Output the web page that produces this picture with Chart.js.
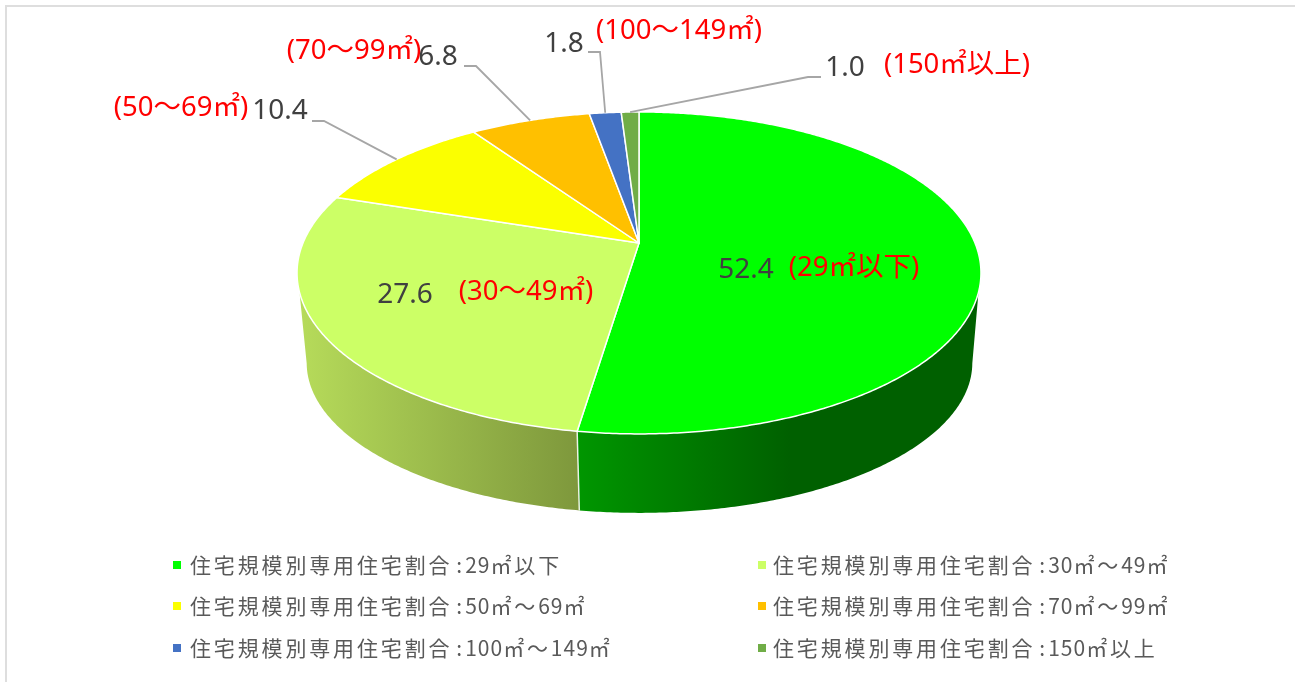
<!DOCTYPE html>
<html lang="ja">
<head>
<meta charset="utf-8">
<style>
html,body{margin:0;padding:0;background:#fff;overflow:hidden}
#c{display:block}
</style>
<script src="https://cdn.jsdelivr.net/npm/chart.js@4"></script>
</head>
<body>
<canvas id="c" width="1295" height="682"></canvas>
<script>
const categories = ['住宅規模別専用住宅割合:29㎡以下','住宅規模別専用住宅割合:30㎡〜49㎡','住宅規模別専用住宅割合:50㎡〜69㎡','住宅規模別専用住宅割合:70㎡〜99㎡','住宅規模別専用住宅割合:100㎡〜149㎡','住宅規模別専用住宅割合:150㎡以上'];
const shares = [52.4,27.6,10.4,6.8,1.8,1.0];
const valueLabels = ['52.4','27.6','10.4','6.8','1.8','1.0'];
const sizeLabels = ['(29㎡以下)','(30〜49㎡)','(50〜69㎡)','(70〜99㎡)','(100〜149㎡)','(150㎡以上)'];
const colors = ['#00FF00','#CCFF66','#FBFF00','#FFC000','#4472C4','#70AD47'];
const wallStops = [[['#009600',579],['#006000',790]],[['#B6DB5A',300],['#7E983C',578]],[['#999900',0],['#999900',1]],[['#997300',0],['#997300',1]],[['#2A4476',0],['#2A4476',1]],[['#43682B',0],['#43682B',1]]];
// Layout (screen pixels) - separate from data
const top3d = {cx:639,cy:243,R:336,K:155.4,p:0.186};
const bottom3d = {cx:639.5,cy:335,R:327,K:144.8,p:0.186};
const topVmin = 0.30, botVmin = 0.19;
const valuePos = [[746,270],[405,295],[280,111],[438,57],[564,44],[845,68]];
const sizePos = [[854,268],[526,292],[181,108],[354,51],[679,31],[957,65]];
const leaderPts = [null,null,[[312,121],[324,121]],[[464,66],[476,66]],[[588,52],[600,52]],[[821,77],[808,77]]];
const legendCols = [173,758];
const legendRows = [565,606,648];

function project(d,theta){
  const u=Math.sin(theta),v=-Math.cos(theta),w=1-d.p*v;
  return [d.cx+d.R*u/w,d.cy+d.K*v/w];
}
function arcPts(d,a,b){
  const n=Math.max(2,Math.ceil(Math.abs(b-a)/(Math.PI/360)));
  const pts=[];
  for(let i=0;i<=n;i++) pts.push(project(d,a+(b-a)*i/n));
  return pts;
}
function drawText(ctx,txt,x,y,font,color,align){
  ctx.font=font;ctx.fillStyle=color;ctx.textAlign=align;ctx.textBaseline='middle';
  ctx.fillText(txt,x,y);
}
function drawLegendText(ctx,txt,x,y){
  ctx.font='21px "Noto Sans CJK JP","Noto Sans",sans-serif';
  ctx.fillStyle='#595959';ctx.textAlign='left';ctx.textBaseline='middle';
  txt.match(/[0-9]+|:|[^0-9:]+/g).forEach(run=>{
    const isDigit=/^[0-9]/.test(run), isColon=run===':';
    if(isColon) x+=4;
    ctx.letterSpacing=isDigit?'1px':(isColon?'3px':'2.85px');
    ctx.fillText(run,x,y);
    x+=ctx.measureText(run).width;
  });
  ctx.letterSpacing='0px';
}
const pie3d = {
  id:'pie3d',
  beforeDraw(chart){
    const ctx=chart.ctx;
    ctx.save();
    ctx.fillStyle='#fff';ctx.fillRect(0,0,1295,682);
    ctx.strokeStyle='#DEDEDE';ctx.lineWidth=2;
    ctx.beginPath();ctx.moveTo(6,682);ctx.lineTo(6,6);ctx.lineTo(1295,6);ctx.stroke();
    ctx.restore();
  },
  beforeDatasetDraw(chart,args){
    const ctx=chart.ctx, arcs=chart.getDatasetMeta(args.index).data;
    const ang=arcs.map(a=>[a.startAngle+Math.PI/2,a.endAngle+Math.PI/2]);
    ctx.save();
    // side walls: the front part between the two silhouette angles of each disc
    ang.forEach(([a,b],i)=>{
      const ta=Math.max(a,Math.PI-Math.acos(topVmin)), tb=Math.min(b,Math.PI+Math.acos(topVmin));
      const ba=Math.max(a,Math.PI-Math.acos(botVmin)), bb=Math.min(b,Math.PI+Math.acos(botVmin));
      if(ta>=tb||ba>=bb) return;
      const pts=arcPts(top3d,ta,tb).concat(arcPts(bottom3d,ba,bb).reverse());
      const s=wallStops[i];
      const g=ctx.createLinearGradient(s[0][1],0,s[1][1],0);
      g.addColorStop(0,s[0][0]);g.addColorStop(1,s[1][0]);
      ctx.fillStyle=g;
      ctx.beginPath();
      pts.forEach((p,k)=>k?ctx.lineTo(p[0],p[1]):ctx.moveTo(p[0],p[1]));
      ctx.closePath();ctx.fill();
    });
    // separators on the wall
    ang.forEach(([a])=>{
      if(a>1e-6&&-Math.cos(a)>topVmin){
        const p=project(top3d,a),q=project(bottom3d,a);
        ctx.strokeStyle='rgba(255,255,255,.85)';ctx.lineWidth=1.5;
        ctx.beginPath();ctx.moveTo(p[0],p[1]);ctx.lineTo(q[0],q[1]);ctx.stroke();
      }
    });
    // top faces
    ang.forEach(([a,b],i)=>{
      const pts=arcPts(top3d,a,b);
      ctx.beginPath();ctx.moveTo(top3d.cx,top3d.cy);
      pts.forEach(p=>ctx.lineTo(p[0],p[1]));
      ctx.closePath();
      ctx.fillStyle=colors[i];ctx.fill();
      ctx.strokeStyle='#fff';ctx.lineWidth=1.5;ctx.lineJoin='round';ctx.stroke();
    });
    ctx.restore();
    return false;
  },
  afterDatasetsDraw(chart){
    const ctx=chart.ctx, arcs=chart.getDatasetMeta(0).data;
    ctx.save();
    // leader lines
    ctx.strokeStyle='#A6A6A6';ctx.lineWidth=1.8;
    leaderPts.forEach((l,i)=>{
      if(!l) return;
      const mid=(arcs[i].startAngle+arcs[i].endAngle)/2+Math.PI/2;
      const e=project(top3d,mid);
      ctx.beginPath();ctx.moveTo(l[0][0],l[0][1]);ctx.lineTo(l[1][0],l[1][1]);ctx.lineTo(e[0],e[1]);ctx.stroke();
    });
    const numFont='28px "Noto Sans","Noto Sans CJK JP",sans-serif';
    const redFont='27.5px "Noto Sans","Noto Sans CJK JP",sans-serif';
    valueLabels.forEach((t,i)=>drawText(ctx,t,valuePos[i][0],valuePos[i][1],numFont,'#404040','center'));
    sizeLabels.forEach((t,i)=>drawText(ctx,t,sizePos[i][0],sizePos[i][1],redFont,'#FF0000','center'));
    // legend
    categories.forEach((t,i)=>{
      const col=i%2,row=Math.floor(i/2);
      const x=legendCols[col],y=legendRows[row];
      ctx.fillStyle=colors[i];ctx.fillRect(x,y-4,8,8);
      drawLegendText(ctx,t,x+(col?15:17),y);
    });
    ctx.restore();
  }
};
new Chart(document.getElementById('c'),{
  type:'pie',
  data:{labels:categories,datasets:[{data:shares,backgroundColor:colors,borderColor:'#fff',borderWidth:1}]},
  options:{responsive:false,animation:false,layout:{padding:0},
    plugins:{legend:{display:false},tooltip:{enabled:false},title:{display:false}}},
  plugins:[pie3d]
});
</script>
</body>
</html>
